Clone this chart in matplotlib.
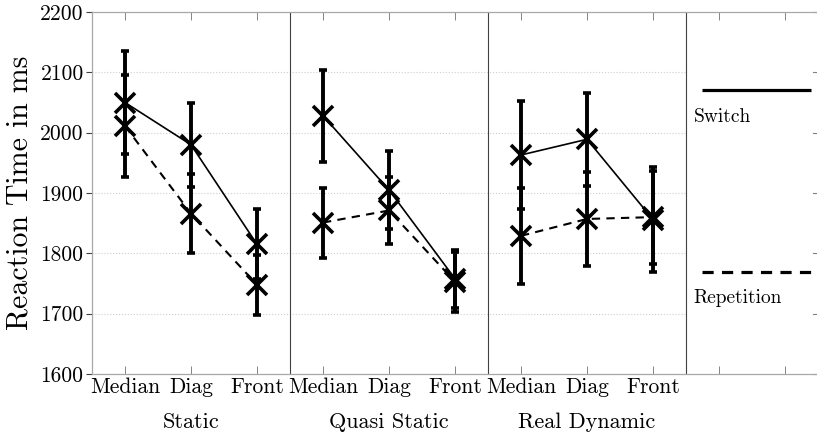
import matplotlib
matplotlib.use('Agg')
import matplotlib.pyplot as plt
from matplotlib.transforms import blended_transform_factory

plt.rcParams['font.family'] = ['cmr10', 'DejaVu Serif']
plt.rcParams['axes.unicode_minus'] = False
plt.rcParams['axes.formatter.use_mathtext'] = True

# ── data ─────────────────────────────────────────────────────────────
groups = ['Static', 'Quasi Static', 'Real Dynamic']
views = ['Median', 'Diag', 'Front']

switch_mean = [[2050, 1980, 1815],
               [2028, 1905, 1758],
               [1963, 1989, 1856]]
switch_err = [[85, 70, 58],
              [76, 65, 48],
              [90, 77, 87]]

rep_mean = [[2011, 1866, 1748],
            [1851, 1871, 1753],
            [1829, 1857, 1860]]
rep_err = [[85, 65, 50],
           [58, 56, 50],
           [79, 78, 77]]

y_ticks = [1600, 1700, 1800, 1900, 2000, 2100, 2200]

# ── style ────────────────────────────────────────────────────────────
INK = 'black'
SPINE = '#a8a8a8'
SEP = '#404040'
GRID = '#cfcfcf'

fig = plt.figure(figsize=(8.17, 4.37), dpi=100)
ax = fig.add_axes([92 / 817, 1 - 374 / 437, 726 / 817, 362 / 437])

n_views = len(views)
for g in range(len(groups)):
    xs = [g * n_views + i + 1 for i in range(n_views)]
    ax.plot(xs, switch_mean[g], color=INK, lw=1.2, ls='-', zorder=3)
    ax.plot(xs, rep_mean[g], color=INK, lw=1.5, ls=(0, (4, 3)), zorder=3)
    for means, errs in ((switch_mean[g], switch_err[g]), (rep_mean[g], rep_err[g])):
        ax.errorbar(xs, means, yerr=errs, fmt='x', color=INK, ms=15, mew=2.6,
                    elinewidth=2.8, capsize=3.2, capthick=2.4, zorder=4)

# panel separators
for s in range(1, len(groups) + 1):
    ax.axvline(s * n_views + 0.5, color=SEP, lw=0.8, zorder=2)

# dotted grid in the data panels only
ax.hlines(y_ticks, 0.5, len(groups) * n_views + 0.5, colors=GRID,
          linestyles=':', lw=0.8, zorder=1)

ax.set_xlim(0.5, 11.5)
ax.set_ylim(1600, 2200)
ax.set_yticks(y_ticks)
ax.set_yticklabels([str(v) for v in y_ticks], fontsize=15.5)

tick_pos = [1, 2, 3, 4, 5, 6, 7, 8, 9, 10, 11]
tick_lab = views * len(groups) + ['', '']
ax.set_xticks(tick_pos)
ax.set_xticklabels(tick_lab, fontsize=15.5)
ax.tick_params(axis='x', direction='in', length=6, width=0.6, color='#707070',
               top=True, pad=2.5)
ax.tick_params(axis='y', direction='out', length=4, width=0.8, color='#404040',
               right=False, pad=2)

# inward ticks along the right edge
for v in y_ticks:
    ax.plot([11.5 - 0.08, 11.5], [v, v], color='#808080', lw=0.8,
            clip_on=False, zorder=2)

for sp in ax.spines.values():
    sp.set_color(SPINE)
    sp.set_linewidth(0.9)
ax.spines['right'].set_visible(False)

ax.set_ylabel('Reaction Time in ms', fontsize=21.5, labelpad=5)

trans = blended_transform_factory(ax.transData, ax.transAxes)
for g, name in enumerate(groups):
    ax.text(g * n_views + 2, -0.133, name, transform=trans,
            ha='center', va='center', fontsize=16)

# legend panel
ax.plot([0.84, 0.99], [0.785, 0.785], transform=ax.transAxes, color=INK,
        lw=2.3, solid_capstyle='butt', clip_on=False)
ax.text(0.829, 0.71, 'Switch', transform=ax.transAxes, ha='left',
        va='center', fontsize=14)
ax.plot([0.84, 0.99], [0.283, 0.283], transform=ax.transAxes, color=INK,
        lw=2.3, ls=(0, (3.5, 2.6)), clip_on=False)
ax.text(0.829, 0.21, 'Repetition', transform=ax.transAxes, ha='left',
        va='center', fontsize=14)

fig.savefig('out.png', dpi=100, facecolor='white')
